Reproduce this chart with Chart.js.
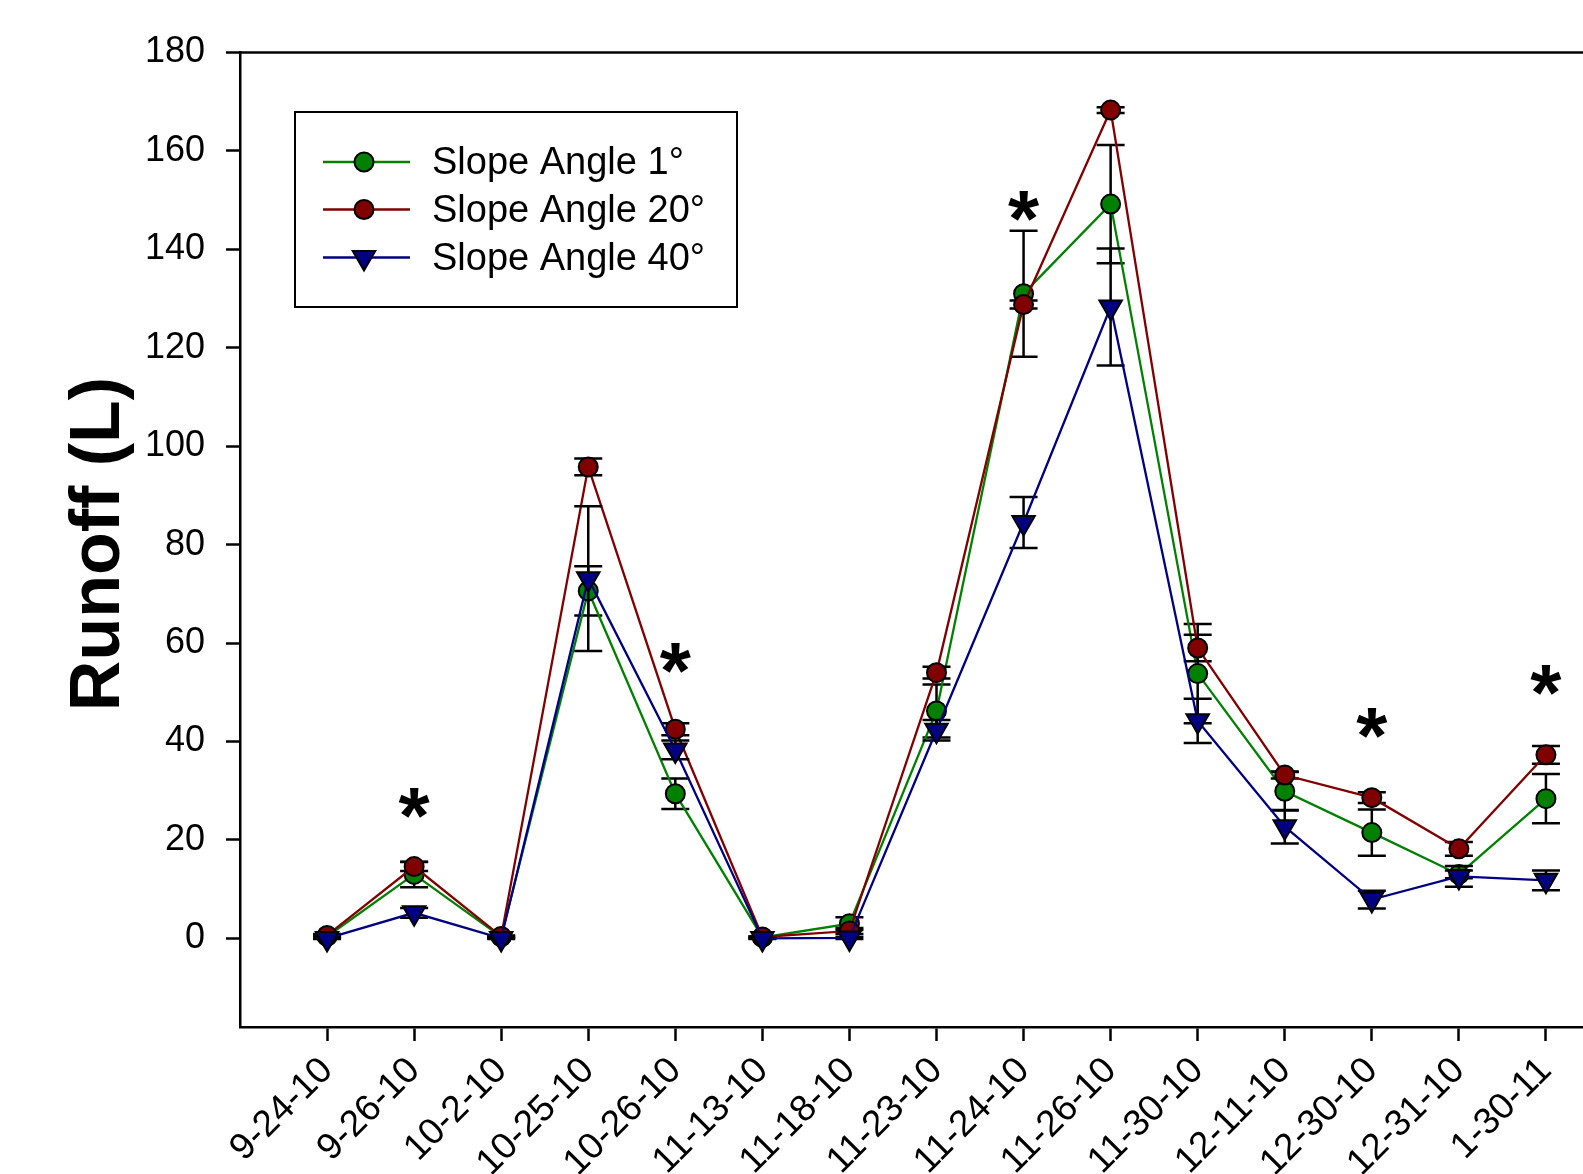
<!DOCTYPE html>
<html>
<head>
<meta charset="utf-8">
<script src="https://cdn.jsdelivr.net/npm/chart.js@4/dist/chart.umd.min.js"></script>
<style>
  html, body { margin: 0; padding: 0; background: #fff; overflow: hidden; width: 1583px; height: 1174px; }
  #c { display: block; }
</style>
</head>
<body>
<canvas id="c" width="1660" height="1174" style="width:1660px;height:1174px"></canvas>
<script>
// ---------- data ----------
const categories = ['9-24-10','9-26-10','10-2-10','10-25-10','10-26-10','11-13-10','11-18-10','11-23-10','11-24-10','11-26-10','11-30-10','12-11-10','12-30-10','12-31-10','1-30-11'];

const slope1    = [0.4, 13.0, 0.3, 70.6, 29.4, 0.2, 3.0, 46.2, 131.0, 149.2, 53.8, 29.9, 21.5, 13.0, 28.4];
const slope1Err = [0.3,  2.6, 0.2,  5.0,  3.1, 0.2, 1.3,  5.4,  12.8,  12.0, 10.1,  3.9,  4.7,  0.8,  5.0];

const slope20    = [0.6, 14.6, 0.4, 95.8, 42.5, 0.3, 1.5, 54.0, 128.8, 168.3, 59.0, 33.2, 28.6, 18.2, 37.3];
const slope20Err = [0.3,  0.9, 0.2,  1.7,  1.2, 0.1, 0.6,  1.2,   0.8,   0.6,  2.7,  0.7,  1.1,  1.4,  1.8];

const slope40    = [0.0, 5.2, 0.0, 73.1, 38.3, 0.0, 0.1, 42.3, 84.5, 128.3, 44.2, 22.7, 7.9, 12.6, 11.8];
const slope40Err = [0.1, 1.0, 0.1, 14.7,  1.9, 0.1, 0.2,  2.1,  5.2,  11.9,  4.5,  3.4, 1.8,  2.1,  2.0];

const yTickValues = [0, 20, 40, 60, 80, 100, 120, 140, 160, 180];

const sigCategories = ['9-26-10', '10-26-10', '11-24-10', '12-30-10', '1-30-11'];
const sigHeights    = [27.6, 57.0, 148.9, 43.8, 52.6];

const seriesNames = ['Slope Angle 1°', 'Slope Angle 20°', 'Slope Angle 40°'];
const yTitle = 'Runoff (L)';

// ---------- helpers ----------
const FONT = "'Liberation Sans', Arial, Helvetica, sans-serif";
const toPoints = arr => arr.map((v, i) => ({ x: i, y: v }));

function drawMarker(ctx, style, x, y, color) {
  ctx.save();
  ctx.fillStyle = color;
  ctx.strokeStyle = '#000';
  ctx.lineWidth = 2;
  ctx.beginPath();
  if (style === 'circle') {
    ctx.arc(x, y, 9.5, 0, Math.PI * 2);
  } else {
    const r = 13;
    let rad = Math.PI;
    ctx.moveTo(x + Math.sin(rad) * r, y - Math.cos(rad) * r);
    rad += 2 * Math.PI / 3;
    ctx.lineTo(x + Math.sin(rad) * r, y - Math.cos(rad) * r);
    rad += 2 * Math.PI / 3;
    ctx.lineTo(x + Math.sin(rad) * r, y - Math.cos(rad) * r);
    ctx.closePath();
  }
  ctx.fill();
  ctx.stroke();
  ctx.restore();
}

// error bars plugin: drawn just before each dataset
const errorBarPlugin = {
  id: 'errorBars',
  beforeDatasetDraw(chart, args) {
    const ds = chart.data.datasets[args.index];
    if (!ds.errors) return;
    const { ctx, scales: { x, y } } = chart;
    ctx.save();
    ctx.strokeStyle = '#000';
    ctx.lineWidth = 2.5;
    const cap = 14;
    ds.data.forEach((p, i) => {
      const e = ds.errors[i];
      const px = x.getPixelForValue(p.x);
      const yt = y.getPixelForValue(p.y + e);
      const yb = y.getPixelForValue(p.y - e);
      ctx.beginPath();
      ctx.moveTo(px, yt); ctx.lineTo(px, yb);
      ctx.moveTo(px - cap, yt); ctx.lineTo(px + cap, yt);
      ctx.moveTo(px - cap, yb); ctx.lineTo(px + cap, yb);
      ctx.stroke();
    });
    ctx.restore();
  }
};

// frame top line, y title, asterisks and legend
const decorPlugin = {
  id: 'decor',
  afterDraw(chart) {
    const { ctx, chartArea, scales: { x, y } } = chart;
    ctx.save();
    // top frame line
    ctx.strokeStyle = '#000';
    ctx.lineWidth = 2.5;
    ctx.beginPath();
    ctx.moveTo(chartArea.left - 1.25, chartArea.top);
    ctx.lineTo(chartArea.right, chartArea.top);
    ctx.stroke();

    // y axis title
    ctx.save();
    ctx.fillStyle = '#000';
    ctx.font = 'bold 70px ' + FONT;
    ctx.textAlign = 'center';
    ctx.textBaseline = 'alphabetic';
    ctx.translate(119, 544);
    ctx.rotate(-Math.PI / 2);
    ctx.fillText(yTitle, 0, 0);
    ctx.restore();

    // significance asterisks
    ctx.fillStyle = '#000';
    ctx.font = 'bold 80px ' + FONT;
    ctx.textAlign = 'center';
    ctx.textBaseline = 'alphabetic';
    sigCategories.forEach((c, k) => {
      const px = x.getPixelForValue(categories.indexOf(c));
      const py = y.getPixelForValue(sigHeights[k]);
      const m = ctx.measureText('*');
      const off = (m.actualBoundingBoxAscent - m.actualBoundingBoxDescent) / 2;
      ctx.fillText('*', px, py + off);
    });

    // legend
    const box = { x: 295, y: 112, w: 442, h: 195 };
    ctx.lineWidth = 2;
    ctx.strokeStyle = '#000';
    ctx.strokeRect(box.x, box.y, box.w, box.h);
    const rows = [162, 209.5, 257.5];
    ctx.font = '38px ' + FONT;
    ctx.textAlign = 'left';
    ctx.textBaseline = 'middle';
    chart.data.datasets.forEach((ds, i) => {
      const ry = rows[i];
      ctx.strokeStyle = ds.borderColor;
      ctx.lineWidth = 2.3;
      ctx.beginPath();
      ctx.moveTo(323, ry); ctx.lineTo(410, ry);
      ctx.stroke();
      drawMarker(ctx, ds.pointStyle, 364, ry, ds.pointBackgroundColor);
      ctx.fillStyle = '#000';
      ctx.fillText(ds.label, 432, ry + 2);
    });
    ctx.restore();
  }
};

// ---------- chart ----------
const ctx = document.getElementById('c').getContext('2d');

new Chart(ctx, {
  type: 'line',
  data: {
    datasets: [
      {
        label: seriesNames[0], data: toPoints(slope1), errors: slope1Err,
        borderColor: '#008000', backgroundColor: '#008000', pointBackgroundColor: '#008000',
        pointBorderColor: '#000', pointBorderWidth: 2, pointRadius: 9.5, pointStyle: 'circle',
        borderWidth: 2.3, tension: 0, order: 3
      },
      {
        label: seriesNames[1], data: toPoints(slope20), errors: slope20Err,
        borderColor: '#800000', backgroundColor: '#800000', pointBackgroundColor: '#800000',
        pointBorderColor: '#000', pointBorderWidth: 2, pointRadius: 9.5, pointStyle: 'circle',
        borderWidth: 2.3, tension: 0, order: 2
      },
      {
        label: seriesNames[2], data: toPoints(slope40), errors: slope40Err,
        borderColor: '#000080', backgroundColor: '#000080', pointBackgroundColor: '#000080',
        pointBorderColor: '#000', pointBorderWidth: 2, pointRadius: 13, pointStyle: 'triangle',
        pointRotation: 180, borderWidth: 2.3, tension: 0, order: 1
      }
    ]
  },
  options: {
    responsive: false,
    animation: false,
    devicePixelRatio: 1,
    layout: { padding: { top: 52.5, right: 27, bottom: 0, left: 0 } },
    plugins: { legend: { display: false }, tooltip: { enabled: false } },
    scales: {
      x: {
        type: 'linear', position: 'bottom', min: -1, max: 15,
        afterBuildTicks: s => { s.ticks = categories.map((_, i) => ({ value: i })); },
        afterFit: s => { s.height = 147; },
        ticks: {
          autoSkip: false, maxRotation: 45, minRotation: 45,
          font: { family: FONT, size: 37 }, color: '#000', padding: 8,
          callback: v => categories[v]
        },
        grid: { drawOnChartArea: false, drawTicks: true, tickLength: 14, tickWidth: 2.5, tickColor: '#000' },
        border: { display: true, color: '#000', width: 2.5 }
      },
      y: {
        type: 'linear', position: 'left', min: -18, max: 180,
        afterBuildTicks: s => { s.ticks = yTickValues.map(v => ({ value: v })); },
        afterFit: s => { s.width = 240; },
        ticks: { font: { family: FONT, size: 36 }, color: '#000', padding: 21 },
        grid: { drawOnChartArea: false, drawTicks: true, tickLength: 14, tickWidth: 2.5, tickColor: '#000' },
        border: { display: true, color: '#000', width: 2.5 },
        title: { display: false }
      }
    }
  },
  plugins: [errorBarPlugin, decorPlugin]
});
</script>
</body>
</html>
